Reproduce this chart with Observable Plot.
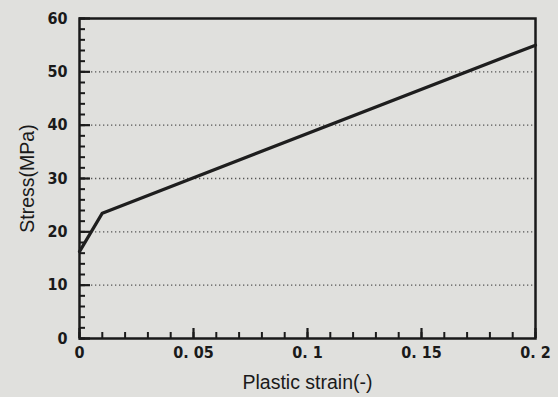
<!DOCTYPE html>
<html><head><meta charset="utf-8">
<script src="https://cdn.jsdelivr.net/npm/d3@7"></script>
<script src="https://cdn.jsdelivr.net/npm/@observablehq/plot@0.6"></script>
<style>
html,body{margin:0;padding:0;background:#e0e0dd;}
#c{width:558px;height:397px;}
</style></head><body><div id="c"></div>
<script>
const strain = [0, 0.01, 0.2];
const stress = [16.3, 23.5, 55];
const xTicks = [0, 0.05, 0.1, 0.15, 0.2];
const xTickLabels = ["0", "0. 05", "0. 1", "0. 15", "0. 2"];
const xMinor = [0, 0.01, 0.02, 0.03, 0.04, 0.05, 0.06, 0.07, 0.08, 0.09, 0.1, 0.11, 0.12, 0.13, 0.14, 0.15, 0.16, 0.17, 0.18, 0.19, 0.2];
const yTicks = [0, 10, 20, 30, 40, 50, 60];
const yMinor = [0, 2, 4, 6, 8, 10, 12, 14, 16, 18, 20, 22, 24, 26, 28, 30, 32, 34, 36, 38, 40, 42, 44, 46, 48, 50, 52, 54, 56, 58, 60];
const gridVals = [10, 20, 30, 40, 50];
const xTitle = "Plastic strain(-)";
const yTitle = "Stress(MPa)";

const data = strain.map((s, i) => ({strain: s, stress: stress[i]}));
const numFont = "'Liberation Sans Narrow','DejaVu Sans Condensed',sans-serif";

const W = 558, H = 397, mL = 79, mR = 23, mT = 18, mB = 59;
const pw = W - mL - mR, ph = H - mT - mB;

const chart = Plot.plot({
  width: W, height: H,
  marginLeft: mL, marginRight: mR, marginTop: mT, marginBottom: mB,
  style: {background: "transparent", color: "#1a1a1a", fontFamily: "'Liberation Sans',Arial,sans-serif"},
  x: {domain: [0, 0.2]},
  y: {domain: [0, 60]},
  marks: [
    Plot.ruleY(gridVals, {stroke: "#555", strokeWidth: 1.3, strokeDasharray: "1.3,2.7"}),
    Plot.tickY(yMinor, {stroke: "#1a1a1a", strokeWidth: 2, insetRight: pw - 6}),
    Plot.tickY(yTicks, {stroke: "#1a1a1a", strokeWidth: 2.2, insetRight: pw - 11}),
    Plot.tickX(xMinor, {stroke: "#1a1a1a", strokeWidth: 2, insetTop: ph - 6}),
    Plot.tickX(xTicks, {stroke: "#1a1a1a", strokeWidth: 2.2, insetTop: ph - 10}),
    Plot.axisY({ticks: yTicks, tickSize: 0, tickPadding: 12, fontSize: 16, fontFamily: numFont, fontWeight: "bold", label: null}),
    Plot.axisX({ticks: xTicks, tickSize: 0, tickPadding: 8, fontSize: 16, fontFamily: numFont, fontWeight: "bold",
      tickFormat: (d) => xTickLabels[xTicks.indexOf(d)], label: null}),
    Plot.frame({stroke: "#1a1a1a", strokeWidth: 2.5}),
    Plot.line(data, {x: "strain", y: "stress", stroke: "#1e1e1e", strokeWidth: 3.2, strokeLinejoin: "miter"}),
    Plot.text([xTitle], {frameAnchor: "bottom", dy: 50, fontSize: 19.5, fill: "#1a1a1a", text: d => d}),
    Plot.text([yTitle], {frameAnchor: "left", textAnchor: "middle", dx: -52, rotate: -90, fontSize: 19.5, fill: "#1a1a1a", text: d => d})
  ]
});
document.getElementById("c").appendChild(chart);
</script></body></html>
